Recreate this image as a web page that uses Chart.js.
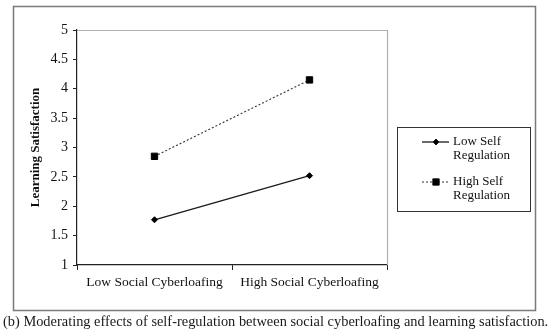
<!DOCTYPE html>
<html lang="en">
<head>
  <meta charset="UTF-8" />
  <title>Learning Satisfaction</title>
  <script src="https://cdn.jsdelivr.net/npm/chart.js"></script>
  <style>
    body { margin: 0; background: #fff; }
    #wrap { position: relative; width: 550px; height: 334px; }
    #caption {
      position: absolute; left: 3px; top: 313px; white-space: nowrap;
      font-family: "Liberation Serif", serif; font-size: 14.4px; color: #1a1a1a;
    }
  </style>
</head>
<body>
  <div id="wrap">
    <canvas id="chart" width="550" height="334"></canvas>
    <div id="caption">(b) Moderating effects of self-regulation between social cyberloafing and learning satisfaction.</div>
  </div>

  <script>
    // data
    const categories = ['Low Social Cyberloafing', 'High Social Cyberloafing'];
    const lowSelfReg = [1.77, 2.52];
    const highSelfReg = [2.85, 4.15];
    const seriesNames = [['Low Self', 'Regulation'], ['High Self', 'Regulation']];
    const yTicks = [1, 1.5, 2, 2.5, 3, 3.5, 4, 4.5, 5];

    const serif = '"Liberation Serif", "Times New Roman", serif';

    // outer frame, plot box and boxed legend
    const frame = {
      id: 'frame',
      beforeDraw(chart) {
        const ctx = chart.ctx;
        ctx.save();
        ctx.strokeStyle = '#7a7a7a';
        ctx.lineWidth = 1.5;
        ctx.strokeRect(13.5, 6.5, 522, 304);
        ctx.restore();
      },
      afterDraw(chart) {
        const ctx = chart.ctx;
        const a = chart.chartArea;
        ctx.save();
        ctx.strokeStyle = '#b0b0b0';
        ctx.lineWidth = 1.2;
        ctx.beginPath();
        ctx.moveTo(a.left, a.top + 0.5);
        ctx.lineTo(a.right + 0.5, a.top + 0.5);
        ctx.lineTo(a.right + 0.5, a.bottom);
        ctx.stroke();

        // legend
        ctx.strokeStyle = '#333';
        ctx.lineWidth = 1;
        ctx.strokeRect(397.5, 127.5, 133, 84);
        ctx.font = '13px ' + serif;
        ctx.fillStyle = '#111';
        ctx.textBaseline = 'middle';
        const rows = [142, 182];
        chart.data.datasets.forEach((ds, i) => {
          const y = rows[i];
          ctx.save();
          ctx.strokeStyle = ds.borderColor;
          ctx.lineWidth = ds.borderWidth;
          ctx.setLineDash(ds.borderDash || []);
          ctx.beginPath();
          ctx.moveTo(422, y);
          ctx.lineTo(449, y);
          ctx.stroke();
          ctx.restore();
          Chart.helpers.drawPoint(ctx, {
            pointStyle: ds.pointStyle, radius: ds.pointRadius, borderWidth: 1
          }, 436, y);
          ctx.fillStyle = '#000';
          ctx.fill();
          ctx.fillStyle = '#111';
          seriesNames[i].forEach((t, k) => ctx.fillText(t, 453, y + k * 14));
        });
        ctx.restore();
      }
    };

    new Chart(document.getElementById('chart'), {
      type: 'line',
      data: {
        labels: categories,
        datasets: [
          {
            label: seriesNames[0].join(' '),
            data: lowSelfReg,
            borderColor: '#1a1a1a',
            backgroundColor: '#000',
            borderWidth: 1.3,
            pointStyle: 'rectRot',
            pointRadius: 3,
            pointBorderWidth: 1,
            pointBorderColor: '#000'
          },
          {
            label: seriesNames[1].join(' '),
            data: highSelfReg,
            borderColor: '#333',
            backgroundColor: '#000',
            borderWidth: 1.1,
            borderDash: [2, 2],
            pointStyle: 'rect',
            pointRadius: 4.5,
            pointBorderWidth: 1,
            pointBorderColor: '#000'
          }
        ]
      },
      options: {
        responsive: false,
        animation: false,
        layout: { padding: { top: 30, right: 163, left: 0, bottom: 0 } },
        plugins: { legend: { display: false }, tooltip: { enabled: false } },
        scales: {
          x: {
            offset: true,
            afterFit: s => { s.height = 69; },
            grid: { offset: true, drawOnChartArea: false, drawTicks: true, tickLength: 5, color: '#222' },
            border: { display: true, color: '#222', width: 1.2 },
            ticks: { color: '#111', font: { family: serif, size: 13.5 }, padding: 4, maxRotation: 0 }
          },
          y: {
            min: 1,
            max: 5,
            afterFit: s => { s.width = 77; },
            afterBuildTicks: s => { s.ticks = yTicks.map(v => ({ value: v })); },
            grid: { drawOnChartArea: false, drawTicks: true, tickLength: 4, color: '#222' },
            border: { display: true, color: '#222', width: 1.2 },
            ticks: { color: '#111', font: { family: serif, size: 14 }, padding: 5, callback: v => String(v) },
            title: {
              display: true,
              text: 'Learning Satisfaction',
              color: '#111',
              font: { family: serif, size: 13, weight: 'bold' },
              padding: { top: 28, bottom: 0 }
            }
          }
        }
      },
      plugins: [frame]
    });
  </script>
</body>
</html>
